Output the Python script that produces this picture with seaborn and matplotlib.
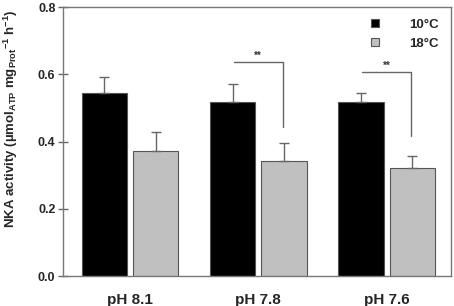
import numpy as np
import pandas as pd
import matplotlib
matplotlib.use("Agg")
import matplotlib.pyplot as plt
import seaborn as sns

groups = ["pH 8.1", "pH 7.8", "pH 7.6"]
temps = ["10°C", "18°C"]
mean_10 = [0.544, 0.519, 0.519]
err_10 = [0.049, 0.053, 0.025]
mean_18 = [0.372, 0.343, 0.321]
err_18 = [0.056, 0.054, 0.037]

# significance brackets: (group index, bracket height, drop-to value)
sig = [(1, 0.637, 0.443), (2, 0.608, 0.415)]

sns.set_style("white")
plt.rcParams["font.family"] = ["Liberation Sans", "DejaVu Sans"]
plt.rcParams["mathtext.fontset"] = "custom"
plt.rcParams["mathtext.bf"] = "Liberation Sans:bold"
plt.rcParams["mathtext.rm"] = "Liberation Sans:bold"

df = pd.DataFrame({
    "group": groups * 2,
    "temp": [temps[0]] * 3 + [temps[1]] * 3,
    "value": mean_10 + mean_18,
})

fig = plt.figure(figsize=(4.54, 3.06), dpi=100)
ax = fig.add_axes([0.139, 0.098, 0.854, 0.879])
edge = "#555555"
sns.barplot(data=df, x="group", y="value", hue="temp", order=groups,
            hue_order=temps, palette=["#000000", "#c0c0c0"], errorbar=None,
            width=0.8, gap=0.12, edgecolor=edge, linewidth=0.8, ax=ax,
            legend=True)

for cont, errs in zip(ax.containers, [err_10, err_18]):
    for bar, e in zip(cont, errs):
        xc = bar.get_x() + bar.get_width() / 2
        h = bar.get_height()
        ax.errorbar(xc, h, yerr=[[0], [e]], fmt="none", ecolor="#666666",
                    elinewidth=1, capsize=3.5, capthick=1)

for gi, yb, ylow in sig:
    xl, xr = gi - 0.19, gi + 0.19
    ax.plot([xl, xr, xr], [yb, yb, ylow], color="#666666", lw=1)
    ax.text(gi, yb + 0.002, "**", ha="center", va="bottom", fontsize=7,
            fontweight="bold", color="#333333")

ax.set_xlim(-0.52, 2.5)
ax.set_ylim(0, 0.8)
ax.set_yticks([0.0, 0.2, 0.4, 0.6, 0.8])
ax.set_yticklabels(["0.0", "0.2", "0.4", "0.6", "0.8"])
ax.set_xlabel("")
ax.set_ylabel(r"NKA activity (µmol$_\mathbf{ATP}$ mg$_\mathbf{Prot}$$^\mathbf{-1}$ h$^\mathbf{-1}$)",
              fontsize=9.5, fontweight="bold")
ax.yaxis.set_label_coords(-0.112, 0.585)
ax.tick_params(axis="y", which="both", left=True, length=7, width=1,
               direction="inout", color="#666666", labelsize=9, pad=2)
ax.tick_params(axis="x", bottom=False, labelsize=11, pad=9)
for lab in ax.get_xticklabels() + ax.get_yticklabels():
    lab.set_fontweight("bold")
for sp in ax.spines.values():
    sp.set_color("#777777")
    sp.set_linewidth(1)

leg = ax.legend(loc="upper right", frameon=False, fontsize=9.5,
                handlelength=0.6, handleheight=0.6, handletextpad=2.3,
                labelspacing=0.5, borderaxespad=0.5)
for t in leg.get_texts():
    t.set_fontweight("bold")

fig.savefig("out.png", dpi=100)
